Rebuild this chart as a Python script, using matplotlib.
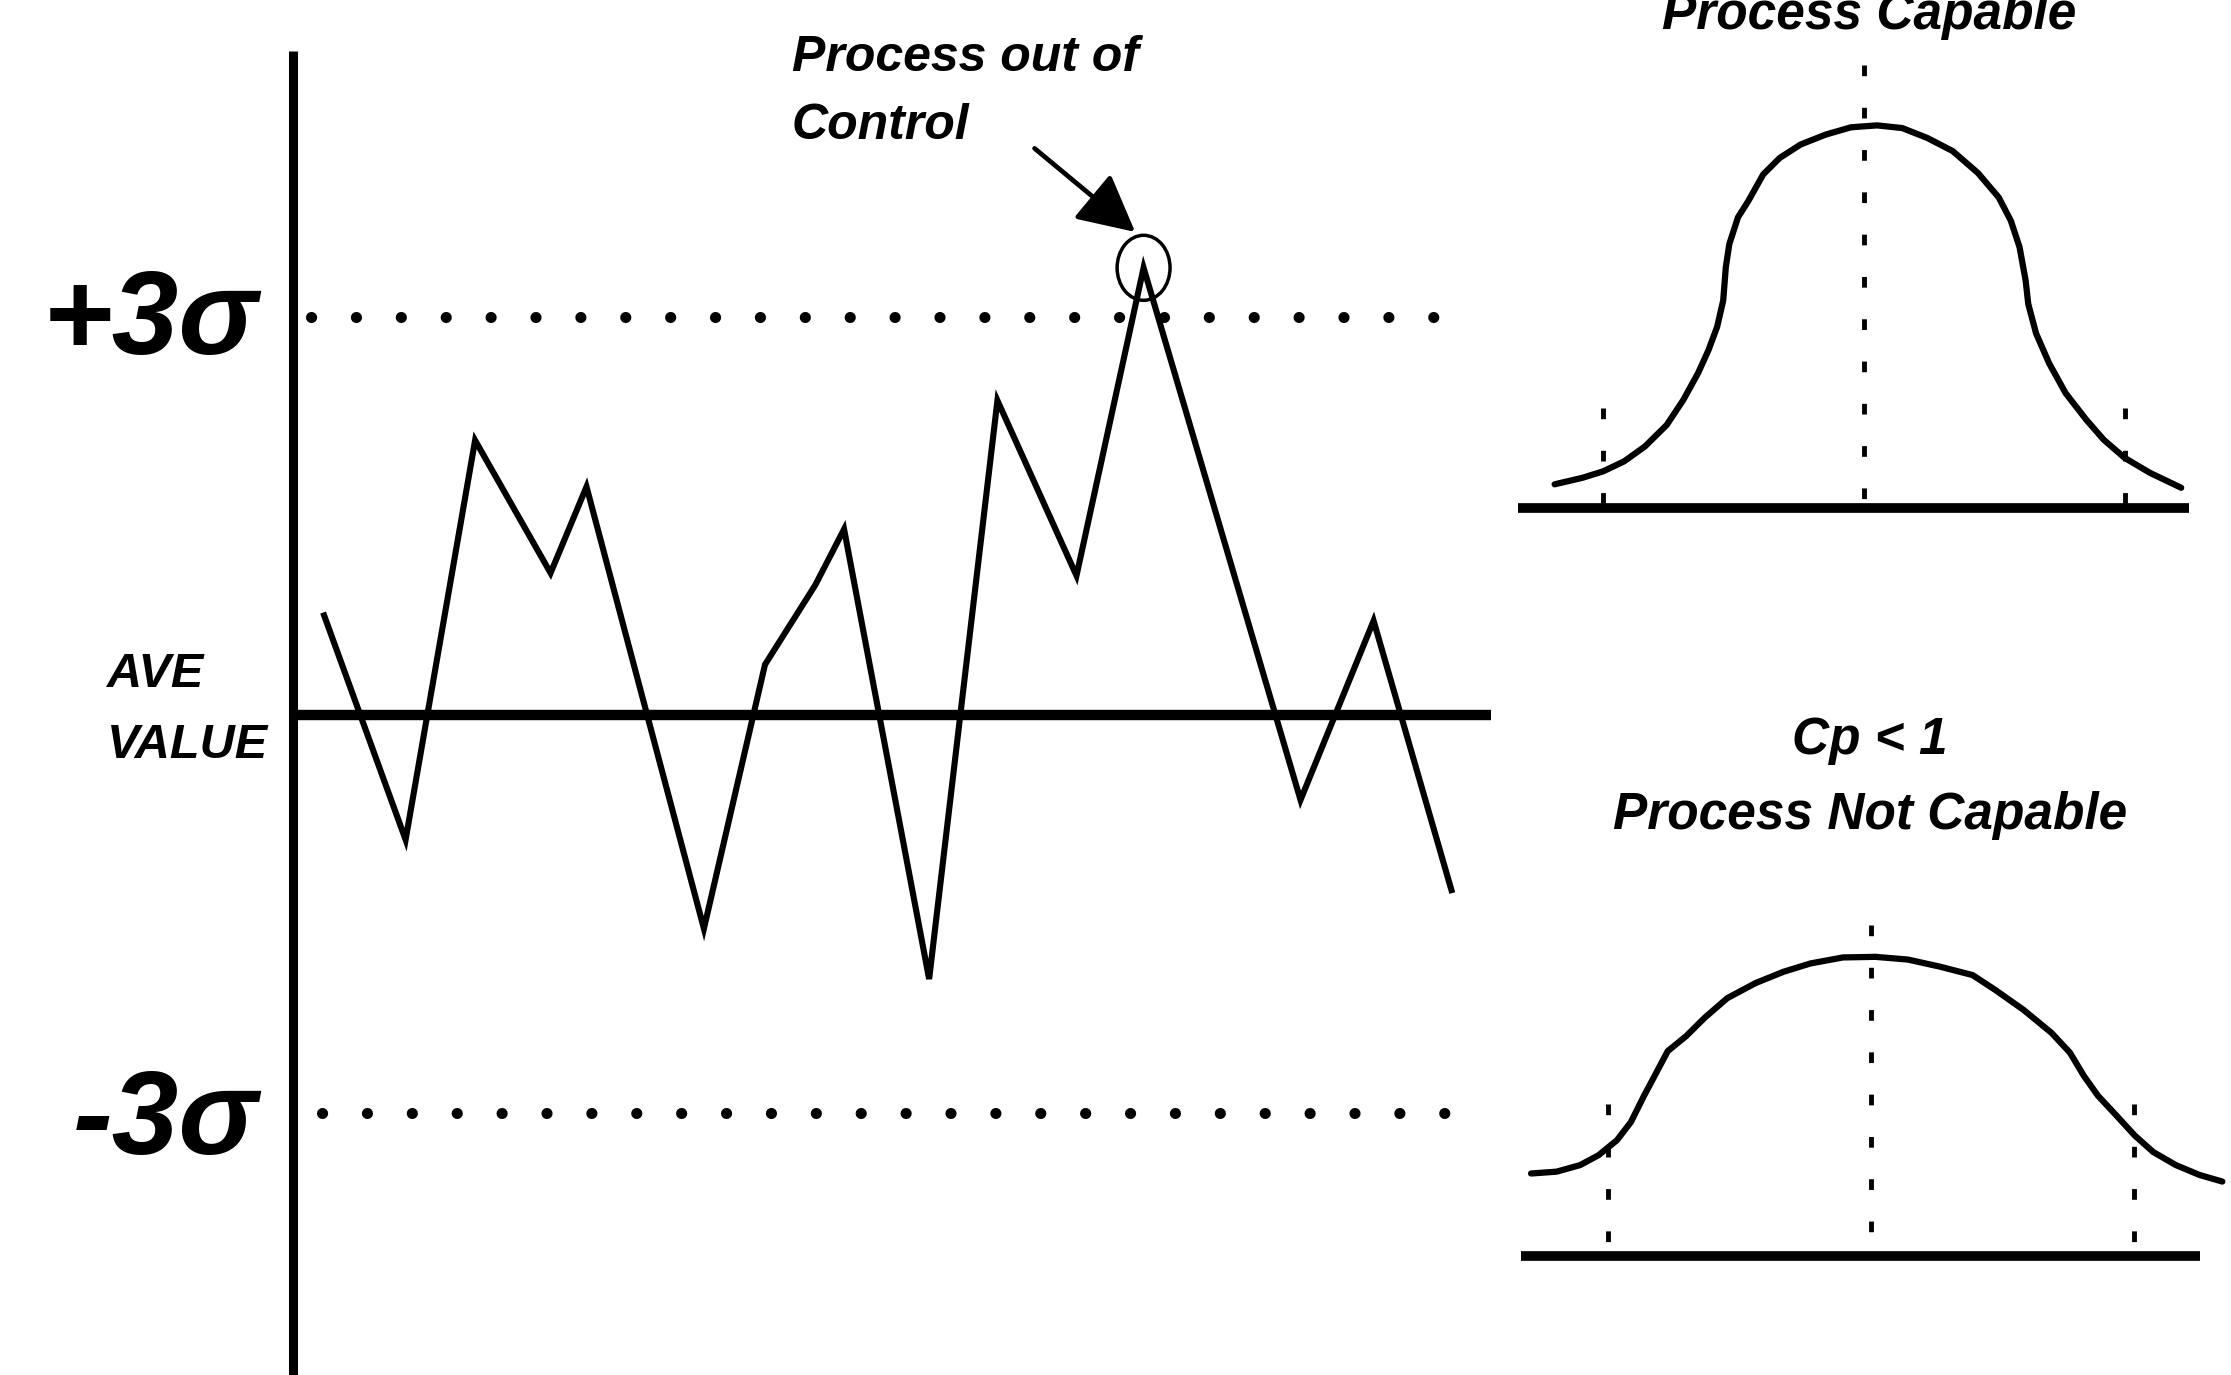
import matplotlib
matplotlib.use('Agg')
import matplotlib.pyplot as plt
from matplotlib.patches import Ellipse

plt.rcParams['font.family'] = ['Liberation Sans', 'DejaVu Sans']

# ---------------- data ----------------
# control chart samples (time position, value in sigma units)
sample_t = [2.6, 9.4, 15.2, 21.5, 24.5, 34.3, 39.4, 43.6, 46.0, 53.1,
            58.8, 65.4, 71.0, 84.1, 90.2, 96.7]
sample_sigma = [0.75, -0.94, 2.07, 1.07, 1.72, -1.61, 0.38, 0.98, 1.40, -1.99,
                2.37, 1.05, 3.37, -0.64, 0.71, -1.32]
out_of_control_index = 12
average_value = 0.0
upper_limit = 3.0
lower_limit = -3.0
upper_label = '+3σ'
lower_label = '-3σ'
ave_labels = ['AVE', 'VALUE']
annotation_lines = ['Process out of', 'Control']

# capable process distribution (x in units where spec limits are +/-3, relative height)
capable_x = [-3.56, -3.24, -3.00, -2.76, -2.52, -2.27, -2.08, -1.91, -1.79, -1.69,
             -1.62, -1.59, -1.55, -1.45, -1.33, -1.16, -0.97, -0.73, -0.44, -0.15,
             0.15, 0.44, 0.73, 1.02, 1.31, 1.55, 1.69, 1.79, 1.86, 1.89,
             1.98, 2.13, 2.32, 2.56, 2.76, 3.00, 3.29, 3.65]
capable_h = [0.061, 0.078, 0.095, 0.121, 0.160, 0.216, 0.281, 0.351, 0.411, 0.472,
             0.541, 0.628, 0.688, 0.758, 0.801, 0.870, 0.913, 0.948, 0.974, 0.993,
             0.998, 0.991, 0.965, 0.931, 0.874, 0.810, 0.749, 0.680, 0.593, 0.532,
             0.455, 0.377, 0.299, 0.229, 0.177, 0.130, 0.091, 0.052]
# not capable process distribution
not_capable_x = [-3.88, -3.59, -3.32, -3.11, -2.90, -2.74, -2.59, -2.45, -2.32, -2.11,
                 -1.90, -1.64, -1.32, -1.00, -0.69, -0.32, 0.05, 0.42, 0.79, 1.16,
                 1.42, 1.74, 2.06, 2.27, 2.43, 2.59, 2.80, 3.01, 3.22, 3.48,
                 3.75, 4.01]
not_capable_h = [0.276, 0.282, 0.304, 0.337, 0.387, 0.448, 0.536, 0.613, 0.685, 0.735,
                 0.796, 0.862, 0.912, 0.950, 0.978, 0.998, 1.0, 0.991, 0.967, 0.939,
                 0.889, 0.823, 0.746, 0.680, 0.602, 0.536, 0.470, 0.403, 0.348, 0.304,
                 0.271, 0.249]
spec_limits = [-3, 3]
capable_title = 'Process Capable'
not_capable_title = ['Cp < 1', 'Process Not Capable']

# ---------------- figure ----------------
W, H = 2231, 1375
DPI = 100
fig = plt.figure(figsize=(W / DPI, H / DPI), dpi=DPI)
fig.patch.set_facecolor('white')

def fx(px):
    return px / W

def fy(py):
    return 1 - py / H

TXT = dict(weight='bold', style='italic', color='black')

# main control chart axes: t 0..100 -> px 293..1491, sigma -5..5 -> px 1378..52
ax = fig.add_axes([fx(293), fy(1378.5), (1491 - 293) / W, (1378.5 - 51.5) / H])
ax.set_xlim(0, 100)
ax.set_ylim(-5, 5)
for s in ['top', 'right', 'bottom']:
    ax.spines[s].set_visible(False)
ax.spines['left'].set_linewidth(6.5)
ax.spines['left'].set_capstyle('butt')
ax.set_xticks([])
ax.set_yticks([])
ax.patch.set_alpha(0)

# average line
ax.plot([0, 100], [average_value, average_value], color='black', lw=7.5,
        solid_capstyle='butt', zorder=2)
# control limits (dotted)
ax.plot([1.5, 95.3], [upper_limit, upper_limit], color='black', lw=8,
        linestyle=(0, (0.01, 4.03)), dash_capstyle='round', zorder=2)
ax.plot([2.4, 96.2], [lower_limit, lower_limit], color='black', lw=8,
        linestyle=(0, (0.01, 4.03)), dash_capstyle='round', zorder=2)
# sample series
ax.plot(sample_t, sample_sigma, color='black', lw=4.4, solid_joinstyle='miter',
        zorder=3)
# circle round the out-of-control point
ax.add_patch(Ellipse((sample_t[out_of_control_index], sample_sigma[out_of_control_index]),
                     width=4.42, height=0.49, fill=False, lw=2.5, color='black',
                     zorder=4))
# arrow
ax.annotate('', xy=(sample_t[out_of_control_index] - 0.7, sample_sigma[out_of_control_index] + 0.27),
            xytext=(61.9, 4.27),
            arrowprops=dict(arrowstyle='-|>,head_length=3.5,head_width=1.8',
                            color='black', lw=3.4, shrinkA=0, shrinkB=0),
            annotation_clip=False)

# labels on the left
fig.text(fx(258), fy(354), upper_label, ha='right', va='baseline', fontsize=86, **TXT)
fig.text(fx(258), fy(1154), lower_label, ha='right', va='baseline', fontsize=86, **TXT)
fig.text(fx(107), fy(687), ave_labels[0], ha='left', va='baseline', fontsize=35, **TXT)
fig.text(fx(107), fy(758), ave_labels[1], ha='left', va='baseline', fontsize=35, **TXT)
fig.text(fx(792), fy(71), annotation_lines[0], ha='left', va='baseline', fontsize=36, **TXT)
fig.text(fx(792), fy(139), annotation_lines[1], ha='left', va='baseline', fontsize=36, **TXT)

# ---------- small distribution charts ----------
def bell(axb, xs, hs, center_top, side_top, base_range):
    axb.set_xlim(-4.2, 4.2)
    axb.set_ylim(-0.1, 1.2)
    axb.axis('off')
    axb.plot(base_range, [0, 0], color='black', lw=7, solid_capstyle='butt')
    axb.plot(xs, hs, color='black', lw=4.5, solid_capstyle='round',
             solid_joinstyle='round')
    dots = dict(color='black', lw=3.5, linestyle=(0, (2.2, 6.5)), dash_capstyle='butt')
    axb.plot([0, 0], [center_top, 0], **dots)
    for lim in spec_limits:
        axb.plot([lim, lim], [side_top, 0], **dots)

# top: x -4.2..4.2 -> px 1499..2229, y -0.1..1.2 -> px 546..48
ax_top = fig.add_axes([fx(1499), fy(546), 730 / W, 498 / H])
bell(ax_top, capable_x, capable_h, 1.155, 0.26, [-3.98, 3.74])
# bottom: x -4.2..4.2 -> px 1503..2239, y -0.1..1.2 -> px 1286..897
ax_bot = fig.add_axes([fx(1503), fy(1286), 736 / W, 389 / H])
bell(ax_bot, not_capable_x, not_capable_h, 1.105, 0.508, [-4.0, 3.76])

# title of the upper chart is cut by the top edge, as in the original
fig.text(fx(1869), fy(29), capable_title, ha='center', va='baseline', fontsize=37, **TXT)
fig.text(fx(1870), fy(754), not_capable_title[0], ha='center', va='baseline', fontsize=37, **TXT)
fig.text(fx(1870), fy(829), not_capable_title[1], ha='center', va='baseline', fontsize=37, **TXT)

fig.savefig('out.png', dpi=DPI, facecolor='white')
